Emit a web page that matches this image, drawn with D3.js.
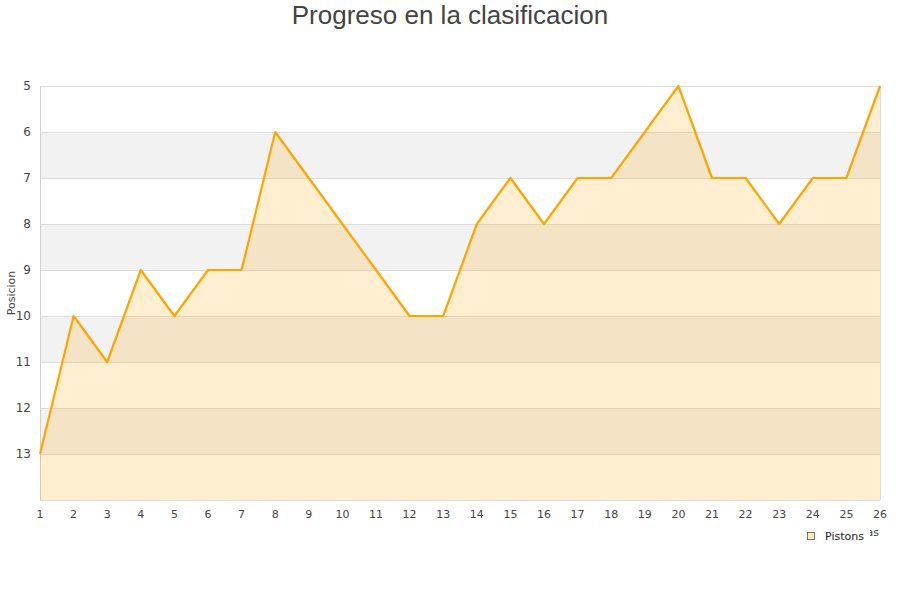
<!DOCTYPE html>
<html><head><meta charset="utf-8">
<script src="https://cdn.jsdelivr.net/npm/d3@7"></script>
<style>body{margin:0;background:#fff;font-family:"DejaVu Sans",sans-serif}</style>
</head><body>
<svg id="c" width="900" height="600"></svg>
<script>
const jornadas = [1,2,3,4,5,6,7,8,9,10,11,12,13,14,15,16,17,18,19,20,21,22,23,24,25,26];
const posiciones = [13,10,11,9,10,9,9,6,7,8,9,10,10,8,7,8,7,7,6,5,7,7,8,7,7,5];
const yTicks = [5,6,7,8,9,10,11,12,13];
const seriesName = "Pistons";
const title = "Progreso en la clasificacion";

const svg = d3.select("#c");
const L=40, R=880, T=86, B=500;
const x = d3.scaleLinear().domain([1,26]).range([L,R]);
const y = d3.scaleLinear().domain([5,14]).range([T,B]);

const bands = d3.range(5,14);
svg.selectAll("rect.band").data(bands).enter().append("rect")
  .attr("x",L).attr("width",R-L)
  .attr("y",d=>y(d)).attr("height",d=>y(d+1)-y(d))
  .attr("fill",d=>d%2===0?"#f2f2f2":"#ffffff");
svg.selectAll("line.grid").data(d3.range(5,15)).enter().append("line")
  .attr("x1",L).attr("x2",R).attr("y1",d=>y(d)+0.5).attr("y2",d=>y(d)+0.5)
  .attr("stroke","#dddddd");
svg.append("line").attr("x1",R+0.5).attr("x2",R+0.5).attr("y1",T).attr("y2",B).attr("stroke","#dddddd");
svg.append("line").attr("x1",L+0.5).attr("x2",L+0.5).attr("y1",T).attr("y2",B).attr("stroke","#d0d0d0");

const data = jornadas.map((j,i)=>({j, p:posiciones[i]}));
svg.append("path").datum(data)
  .attr("d",d3.area().x(d=>x(d.j)).y0(B).y1(d=>y(d.p)))
  .attr("fill","rgba(255,165,0,0.19)");
svg.append("path").datum(data)
  .attr("d",d3.line().x(d=>x(d.j)).y(d=>y(d.p)))
  .attr("fill","none").attr("stroke","#ffa500").attr("stroke-width",2.2).attr("stroke-linejoin","round");

svg.selectAll("text.yt").data(yTicks).enter().append("text")
  .attr("x",31).attr("y",d=>y(d)+4).attr("text-anchor","end")
  .attr("font-size",12).attr("fill","#444").text(d=>d);
svg.selectAll("text.xt").data(jornadas).enter().append("text")
  .attr("x",d=>x(d)).attr("y",518).attr("text-anchor","middle")
  .attr("font-size",11).attr("fill","#444").text(d=>d);

svg.append("text").attr("transform","translate(15,293) rotate(-90)")
  .attr("text-anchor","middle").attr("font-size",11).attr("fill","#444").text("Posicion");

svg.append("text").attr("x",450).attr("y",24).attr("text-anchor","middle")
  .attr("font-family","'Liberation Sans',Arial,sans-serif").attr("font-size",26).attr("fill","#444").text(title);

// x axis title, hidden behind the legend box as in the reference (only the last letter shows)
svg.append("text").attr("x",879).attr("y",536).attr("text-anchor","end")
  .attr("font-size",11).attr("fill","#444").text("Jornadas");
svg.append("rect").attr("x",770).attr("y",528).attr("width",100).attr("height",20).attr("fill","#fff");
svg.append("rect").attr("x",807.5).attr("y",532.5).attr("width",7).attr("height",7)
  .attr("fill","#fde8c0").attr("stroke","#555").attr("stroke-width",0.8);
svg.append("text").attr("x",825).attr("y",540).attr("font-size",11).attr("fill","#222").text(seriesName);
</script>
</body></html>
